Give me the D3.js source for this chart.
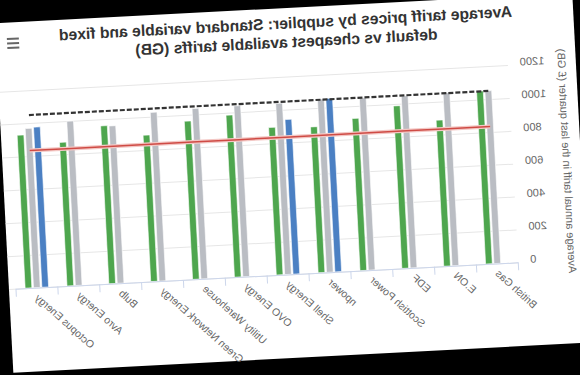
<!DOCTYPE html>
<html>
<head>
<meta charset="utf-8">
<script src="https://cdn.jsdelivr.net/npm/d3@7"></script>
<style>
    body {
        margin: 0;
        padding: 0;
        background-color: black;
    }
    svg {
        display: block;
    }
</style>
</head>
<body>

<svg width="580" height="375"></svg>

<script>
    // values (£ per year)
    const suppliers = ["British Gas", "E.ON", "EDF", "Scottish Power", "npower", "Shell Energy",
        "OVO Energy", "Utility Warehouse", "Green Network Energy", "Bulb", "Avro Energy", "Octopus Energy"];
    const fixedDefault = [null, null, null, null, 1055, 940, null, null, null, null, null, 974];
    const averageTariff = [1050, 1051, 1046, 1047, 1053, 1041, 1039, 1036, 1026, 957, 999, 968];
    const standardVariable = [1051, 888, 988, 925, 887, 897, 985, 962, 890, 960, 873, 930];
    const dashedLevel = 1049;
    const cheapestLevel = 833;
    const yTicks = [0, 200, 400, 600, 800, 1000, 1200];

    const titleLines = ["Average tariff prices by supplier: Standard variable and fixed",
        "default vs cheapest available tariffs (GB)"];
    const yTitle = "Average annual tariff in the last quarter (£ GB)";

    const font = "Liberation Sans, Arial, Helvetica, sans-serif";

    let svg = d3.select("svg");

    svg.append("rect")
        .attr("width", 580)
        .attr("height", 375)
        .attr("fill", "black");

    // the picture is a tilted, mirrored photo of the page
    let page = svg.append("g")
        .attr("transform", "rotate(-3 290 187)");

    page.append("rect")
        .attr("x", 4)
        .attr("y", 8)
        .attr("width", 578)
        .attr("height", 350)
        .attr("fill", "white");

    let chart = page.append("g")
        .attr("transform", "translate(580,0) scale(-1,1)");

    let plot = { left: 66, right: 569, top: 76.6, bottom: 274.2 };

    let x = d3.scaleBand()
        .domain(suppliers)
        .range([plot.left, plot.right]);

    let bw = x.bandwidth();

    let slot = d3.scaleBand()
        .domain(["fixed", "average", "standard"])
        .range([bw * 0.2, bw * 0.8])
        .paddingInner(0.2)
        .paddingOuter(0.1);

    let y = d3.scaleLinear()
        .domain([0, 1200])
        .range([plot.bottom, plot.top]);

    // grid + y labels
    let yAxis = chart.append("g")
        .attr("transform", `translate(${plot.left},0)`)
        .call(d3.axisLeft(y)
            .tickValues(yTicks)
            .tickFormat(d3.format("d"))
            .tickSize(-(plot.right + 7 - plot.left))
            .tickPadding(12));

    yAxis.select(".domain").remove();
    yAxis.selectAll(".tick line")
        .attr("stroke", "#e6e6e6");
    yAxis.selectAll(".tick text")
        .attr("font-family", font)
        .attr("font-size", "11px")
        .attr("fill", "#666")
        .attr("dy", "0.05em");

    chart.append("text")
        .attr("transform", `translate(16,${(plot.top + plot.bottom) / 2}) rotate(-90)`)
        .attr("text-anchor", "middle")
        .attr("font-family", font)
        .attr("font-size", "11px")
        .attr("fill", "#666")
        .text(yTitle);

    // columns
    let series = [
        { key: "fixed", values: fixedDefault, color: "#4b80c3" },
        { key: "average", values: averageTariff, color: "#babdc3" },
        { key: "standard", values: standardVariable, color: "#4ea64e" }
    ];

    series.forEach(function(s) {
        chart.append("g")
            .selectAll("rect")
            .data(s.values.map((v, i) => ({ name: suppliers[i], value: v })).filter(d => d.value != null))
            .join("rect")
            .attr("x", d => x(d.name) + slot(s.key))
            .attr("y", d => y(d.value))
            .attr("width", slot.bandwidth())
            .attr("height", d => y(0) - y(d.value))
            .attr("fill", s.color)
            .attr("stroke", "white")
            .attr("stroke-width", 0.6);
    });

    // x axis line and ticks at category edges
    chart.append("line")
        .attr("x1", plot.left)
        .attr("x2", plot.right)
        .attr("y1", plot.bottom + 0.5)
        .attr("y2", plot.bottom + 0.5)
        .attr("stroke", "#ccd6eb");

    chart.append("g")
        .selectAll("line")
        .data(suppliers.concat([null]))
        .join("line")
        .attr("x1", d => d == null ? plot.right : x(d))
        .attr("x2", d => d == null ? plot.right : x(d))
        .attr("y1", plot.bottom)
        .attr("y2", plot.bottom + 8)
        .attr("stroke", "#ccd6eb");

    chart.append("g")
        .selectAll("text")
        .data(suppliers)
        .join("text")
        .attr("transform", d => `translate(${x(d) + bw / 2 + 3},${plot.bottom + 11}) rotate(-45)`)
        .attr("text-anchor", "end")
        .attr("font-family", font)
        .attr("font-size", "10.5px")
        .attr("fill", "#666")
        .text(d => d);

    // reference lines
    let flat = level => d3.line()
        .x(d => x(d) + bw / 2)
        .y(() => y(level));

    chart.append("path")
        .attr("d", flat(cheapestLevel)(suppliers))
        .attr("fill", "none")
        .attr("stroke", "#f3c7c4")
        .attr("stroke-width", 4);

    chart.append("path")
        .attr("d", flat(cheapestLevel)(suppliers))
        .attr("fill", "none")
        .attr("stroke", "#cf4b45")
        .attr("stroke-width", 1.5);

    chart.append("path")
        .attr("d", flat(dashedLevel)(suppliers))
        .attr("fill", "none")
        .attr("stroke", "#333")
        .attr("stroke-width", 2.2)
        .attr("stroke-dasharray", "5,2");

    // title
    chart.append("g")
        .selectAll("text")
        .data(titleLines)
        .join("text")
        .attr("x", 286)
        .attr("y", (d, i) => 28.5 + i * 19)
        .attr("text-anchor", "middle")
        .attr("font-family", font)
        .attr("font-weight", "bold")
        .attr("font-size", "15.7px")
        .attr("fill", "#333")
        .text(d => d);

    // menu button
    chart.append("g")
        .selectAll("line")
        .data([0, 1, 2])
        .join("line")
        .attr("x1", 553)
        .attr("x2", 565)
        .attr("y1", d => 24.5 + d * 4.5)
        .attr("y2", d => 24.5 + d * 4.5)
        .attr("stroke", "#666")
        .attr("stroke-width", 2);
</script>

</body>
</html>
